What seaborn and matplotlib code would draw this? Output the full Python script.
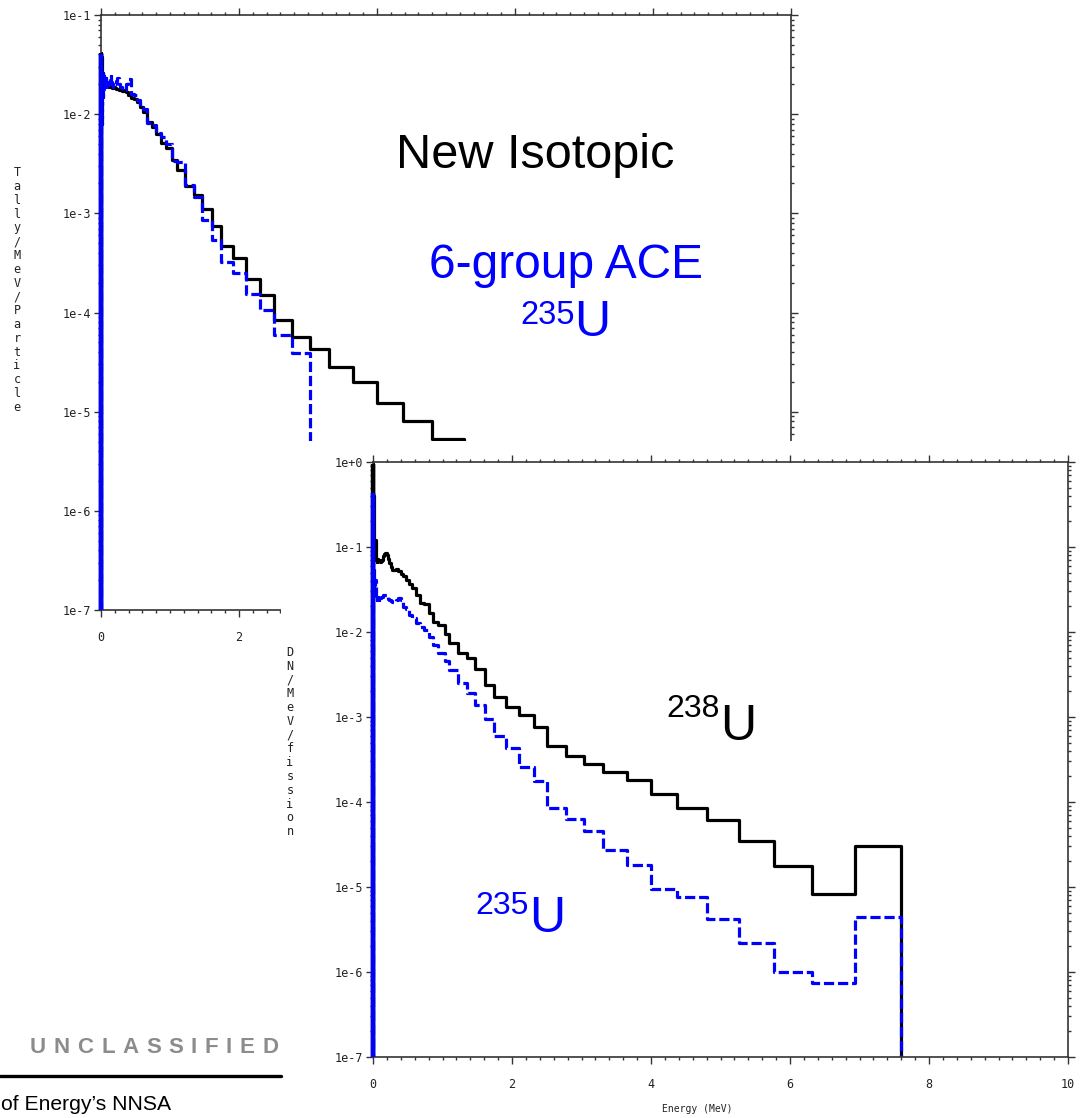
import numpy as np
import pandas as pd
import matplotlib
matplotlib.use("Agg")
import matplotlib.pyplot as plt
from matplotlib.patches import Rectangle
from matplotlib.lines import Line2D
from matplotlib.ticker import (FixedLocator, MultipleLocator, LogLocator,
                               FuncFormatter, NullFormatter)
import seaborn as sns

# ---------------------------------------------------------------- data
# energy group boundaries (MeV)
energy_edges = [
    0.000, 0.005, 0.010, 0.015, 0.020, 0.025, 0.030, 0.036, 0.040, 0.044,
    0.048, 0.052, 0.057, 0.062, 0.068, 0.074, 0.081, 0.089, 0.097, 0.106,
    0.115, 0.126, 0.138, 0.150, 0.164, 0.179, 0.196, 0.214, 0.233, 0.255,
    0.278, 0.304, 0.332, 0.362, 0.396, 0.432, 0.472, 0.515, 0.563, 0.614,
    0.671, 0.733, 0.800, 0.870, 0.940, 1.030, 1.100, 1.220, 1.350, 1.470,
    1.610, 1.740, 1.920, 2.100, 2.310, 2.510, 2.770, 3.030, 3.310, 3.650,
    4.000, 4.380, 4.800, 5.260, 5.770, 6.320, 6.930, 7.590]

# delayed-neutron spectrum, DN/MeV/fission, 238U
u238_dn = [
    0.95, 0.40, 0.16, 0.13, 0.115, 0.105, 0.12, 0.095, 0.082, 0.075,
    0.071, 0.069, 0.067, 0.072, 0.069, 0.071, 0.068, 0.070, 0.068, 0.067,
    0.069, 0.071, 0.075, 0.079, 0.083, 0.084, 0.080, 0.073, 0.065, 0.058,
    0.054, 0.054, 0.055, 0.052, 0.048, 0.045, 0.041, 0.037, 0.033, 0.027,
    0.0221, 0.0212, 0.0168, 0.0132, 0.0121, 0.0096, 0.0074, 0.0056, 0.0049, 0.0037,
    0.00238, 0.00173, 0.00132, 0.00106, 0.00076, 0.00045, 0.00035, 0.000277, 0.000223, 0.000181,
    0.000124, 8.6e-5, 6.1e-5, 3.5e-5, 1.77e-5, 8.2e-6, 3.0e-5]

# delayed-neutron spectrum, DN/MeV/fission, 235U
u235_dn = [
    0.43, 0.06, 0.035, 0.030, 0.034, 0.028, 0.041, 0.031, 0.027, 0.026,
    0.025, 0.026, 0.024, 0.025, 0.026, 0.025, 0.024, 0.025, 0.0245, 0.025,
    0.0255, 0.026, 0.0265, 0.027, 0.0275, 0.027, 0.026, 0.0245, 0.0235, 0.023,
    0.0228, 0.0225, 0.0235, 0.0248, 0.0235, 0.0199, 0.0185, 0.0160, 0.0148, 0.0128,
    0.0115, 0.0105, 0.0088, 0.0070, 0.0057, 0.0045, 0.0036, 0.0025, 0.0019, 0.00138,
    0.00096, 0.00059, 0.00043, 0.00026, 0.000175, 8.4e-5, 6.25e-5, 4.56e-5, 2.72e-5, 1.80e-5,
    9.5e-6, 7.6e-6, 4.17e-6, 2.19e-6, 9.9e-7, 7.5e-7, 4.4e-6]

# tally per MeV per particle, new isotopic data (235U)
tally_isotopic = [
    0.041, 0.038, 0.032, 0.028, 0.026, 0.024, 0.025, 0.023, 0.022, 0.0215,
    0.021, 0.0205, 0.020, 0.0205, 0.020, 0.0195, 0.020, 0.0193, 0.0195, 0.019,
    0.0192, 0.0188, 0.019, 0.0186, 0.0184, 0.0187, 0.0182, 0.018, 0.0178, 0.0176,
    0.0174, 0.0172, 0.0176, 0.0168, 0.0155, 0.0146, 0.0142, 0.0132, 0.0118, 0.0104,
    0.0084, 0.0074, 0.0063, 0.0051, 0.0046, 0.00345, 0.00274, 0.00188, 0.00153, 0.00110,
    0.00074, 0.000469, 0.000352, 0.000216, 0.000150, 8.4e-5, 5.7e-5, 4.25e-5, 2.84e-5, 1.98e-5,
    1.21e-5, 8.0e-6, 5.3e-6]

# tally per MeV per particle, 6-group ACE data (235U)
tally_ace = [
    0.040, 0.012, 0.025, 0.008, 0.022, 0.015, 0.026, 0.018, 0.024, 0.020,
    0.023, 0.019, 0.022, 0.020, 0.023, 0.021, 0.022, 0.020, 0.021, 0.019,
    0.020, 0.022, 0.024, 0.021, 0.020, 0.019, 0.020, 0.0215, 0.023, 0.020,
    0.019, 0.0185, 0.0175, 0.020, 0.0225, 0.0160, 0.0155, 0.0140, 0.0118, 0.0112,
    0.0082, 0.0078, 0.0064, 0.0059, 0.0050, 0.0034, 0.0033, 0.00192, 0.00147, 0.00086,
    0.00054, 0.000326, 0.000248, 0.000154, 0.000106, 6.0e-5, 3.87e-5]

x_ticks = [0, 2, 4, 6, 8, 10]
top_decades = [-7, -1]
bottom_decades = [-7, 0]

BLUE = "#0000ff"
W, H = 1082, 1118


def fx(px):
    return px / W


def fy(py):
    return 1 - py / H


def step_frame(edges, values, floor):
    """Vertices of a histogram outline that rises from and falls back to floor."""
    xs, ys = [edges[0]], [floor]
    for i, v in enumerate(values):
        xs += [edges[i], edges[i + 1]]
        ys += [v, v]
    xs.append(edges[len(values)])
    ys.append(floor)
    return pd.DataFrame({"E": xs, "y": ys})


def draw_spectrum(ax, values, color, dashed, floor):
    df = step_frame(energy_edges, values, floor)
    kw = dict(linestyle=(0, (3.2, 1.2))) if dashed else {}
    sns.lineplot(data=df, x="E", y="y", sort=False, estimator=None,
                 color=color, lw=2.3, legend=False, ax=ax, **kw)
    # the zero-energy spike is drawn as a solid bar on the axis
    ybot = ax.get_ylim()[0]
    ax.add_line(Line2D([energy_edges[0], energy_edges[0]], [ybot, values[0]],
                       color=color, lw=3.2, clip_on=False, zorder=4,
                       solid_capstyle="butt"))


def style_axes(ax, decades):
    ax.set_yscale("log")
    ax.set_xlim(x_ticks[0], x_ticks[-1])
    ax.set_ylim(10.0 ** decades[0], 10.0 ** decades[1])
    ax.set_xlabel("")
    ax.set_ylabel("")
    ax.xaxis.set_major_locator(FixedLocator(x_ticks))
    ax.xaxis.set_minor_locator(MultipleLocator(0.2))
    ax.yaxis.set_major_locator(LogLocator(base=10, numticks=20))
    ax.yaxis.set_minor_locator(LogLocator(base=10, subs=np.arange(2, 10), numticks=20))
    ax.yaxis.set_major_formatter(
        FuncFormatter(lambda v, p: f"1e{int(round(np.log10(v))):+d}"))
    ax.yaxis.set_minor_formatter(NullFormatter())
    ax.tick_params(which="both", direction="out", top=True, right=True,
                   colors="#333333", width=1.0, labelsize=8.5,
                   labelcolor="#222222")
    ax.tick_params(which="major", length=5)
    ax.tick_params(which="minor", length=2.5)
    ax.tick_params(axis="x", which="major", pad=10)
    ax.tick_params(axis="y", which="major", pad=2)
    for s in ax.spines.values():
        s.set_color("#333333")
        s.set_linewidth(1.2)
        s.set_visible(True)


sns.set_style("ticks")
plt.rcParams["font.family"] = ["DejaVu Sans Mono", "DejaVu Sans"]

fig = plt.figure(figsize=(W / 100, H / 100), dpi=100)
fig.patch.set_facecolor("white")

# ------------------------------------------------ first panel (behind)
ax1 = fig.add_axes([fx(101), fy(610), (791 - 101) / W, (610 - 15) / H])
ax1.set_zorder(0)
style_axes(ax1, top_decades)
floor = 1e-9
draw_spectrum(ax1, tally_isotopic, "black", False, floor)
draw_spectrum(ax1, tally_ace, BLUE, True, floor)
style_axes(ax1, top_decades)

sans = ["Liberation Sans", "DejaVu Sans"]
ax1.text(fx(396), fy(168), "New Isotopic", transform=fig.transFigure,
         fontsize=35, family=sans, color="black", ha="left", va="baseline")
ax1.text(fx(429), fy(278), "6-group ACE", transform=fig.transFigure,
         fontsize=34.5, family=sans, color=BLUE, ha="left", va="baseline")
ax1.text(fx(575), fy(324), "235", transform=fig.transFigure,
         fontsize=23.5, family=sans, color=BLUE, ha="right", va="baseline")
ax1.text(fx(574), fy(336), "U", transform=fig.transFigure,
         fontsize=36, family=sans, color=BLUE, ha="left", va="baseline")

fig.text(fx(17), fy(290), "\n".join("Tally/MeV/Particle"), ha="center",
         va="center", fontsize=8.5, linespacing=1.08, color="#222222")

# ------------------------------------ second panel pasted on top of it
fig.add_artist(Rectangle((fx(281), 0), 1 - fx(281), fy(441),
                         transform=fig.transFigure, facecolor="white",
                         edgecolor="none", zorder=1))

ax2 = fig.add_axes([fx(373), fy(1057), (1068 - 373) / W, (1057 - 462) / H])
ax2.set_zorder(2)
ax2.set_facecolor("white")
style_axes(ax2, bottom_decades)
draw_spectrum(ax2, u238_dn, "black", False, floor)
draw_spectrum(ax2, u235_dn, BLUE, True, floor)
style_axes(ax2, bottom_decades)

ax2.text(fx(720), fy(717), "238", transform=fig.transFigure,
         fontsize=23, family=sans, color="black", ha="right", va="baseline")
ax2.text(fx(720), fy(740), "U", transform=fig.transFigure,
         fontsize=36, family=sans, color="black", ha="left", va="baseline")
ax2.text(fx(529), fy(914), "235", transform=fig.transFigure,
         fontsize=23, family=sans, color=BLUE, ha="right", va="baseline")
ax2.text(fx(529), fy(932), "U", transform=fig.transFigure,
         fontsize=36, family=sans, color=BLUE, ha="left", va="baseline")

fig.text(fx(290), fy(742), "\n".join("DN/MeV/fission"), ha="center",
         va="center", fontsize=8.5, linespacing=1.08, color="#222222",
         zorder=5)
fig.text(fx(697), fy(1109), "Energy (MeV)", ha="center", va="center",
         fontsize=7, color="#222222", zorder=5)

# ---------------------------------------------------------- page footer
# letter-spaced classification banner, laid out glyph by glyph
renderer = fig.canvas.get_renderer()
banner = "UNCLASSIFIED"
glyphs = [fig.text(0, fy(1053), ch, ha="left", va="baseline", fontsize=16,
                   fontweight="bold", family=sans, color="#8c8c8c")
          for ch in banner]
widths = [g.get_window_extent(renderer).width for g in glyphs]
left_px, right_px = 30, 278
gap = (right_px - left_px - sum(widths)) / (len(glyphs) - 1)
cursor = left_px
for g, w in zip(glyphs, widths):
    g.set_x(fx(cursor))
    cursor += w + gap

fig.add_artist(Line2D([0, fx(281)], [fy(1076), fy(1076)],
                      transform=fig.transFigure, color="black", lw=2.4))
fig.text(fx(1), fy(1110), "of Energy\u2019s NNSA", ha="left", va="baseline",
         fontsize=15.2, family=sans, color="black")

fig.savefig("out.png", dpi=100, facecolor="white")
